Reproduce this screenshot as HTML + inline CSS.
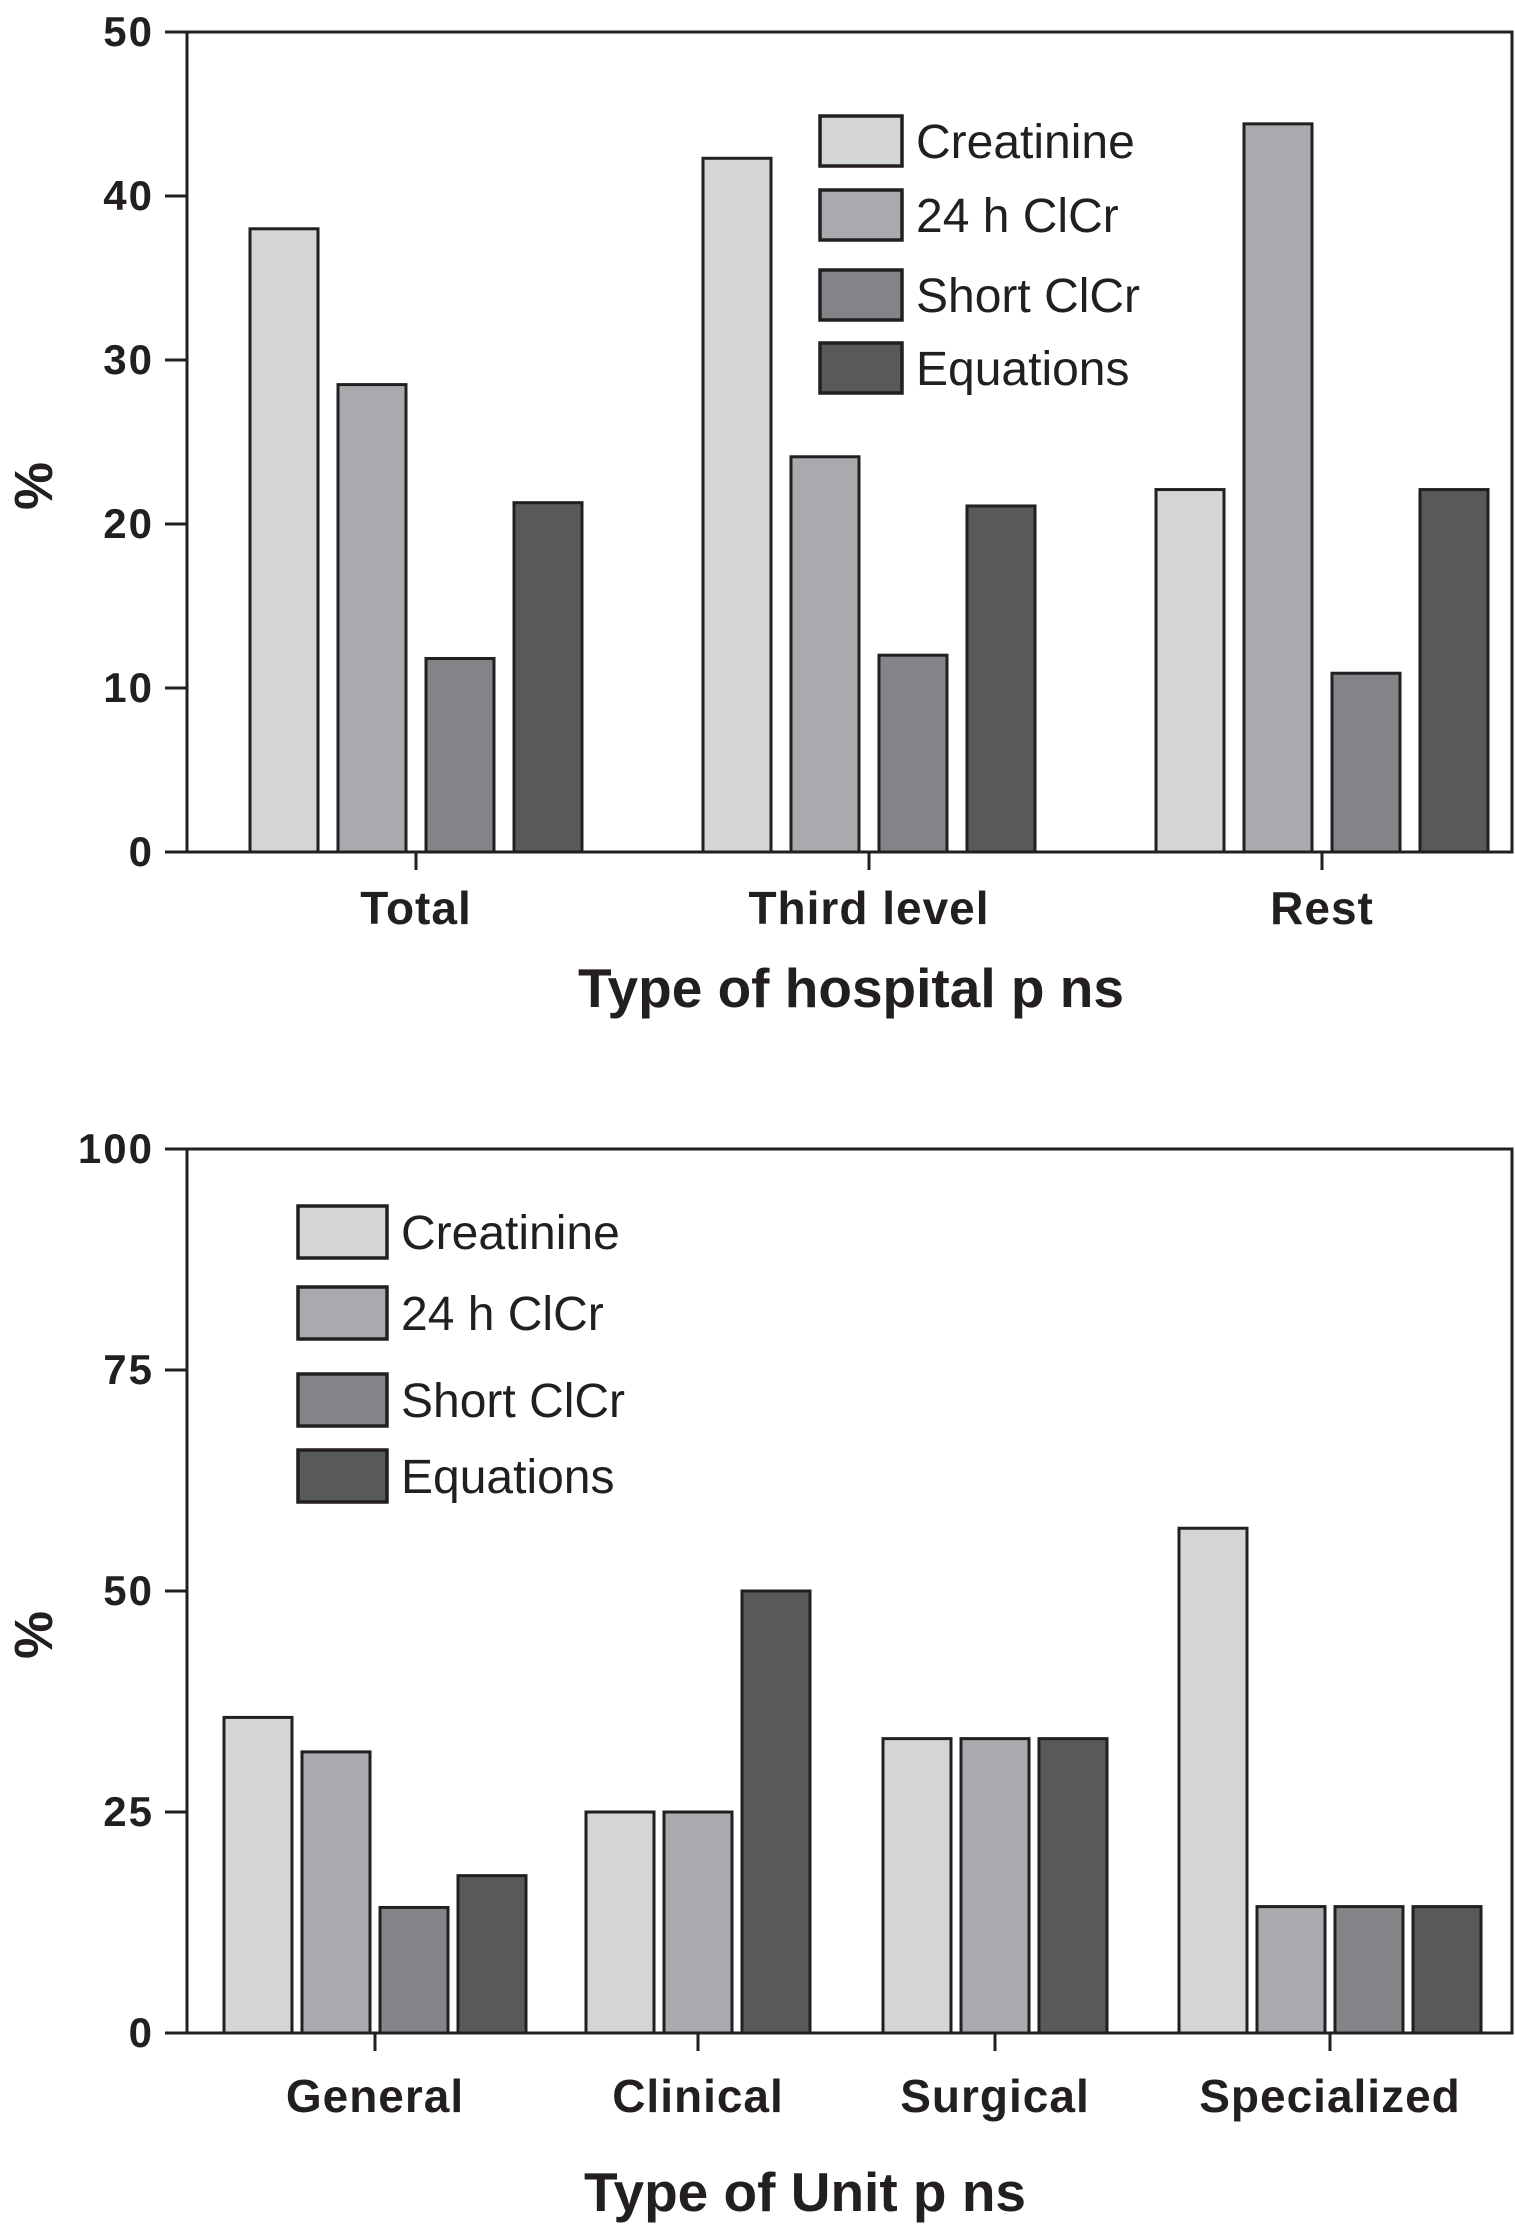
<!DOCTYPE html>
<html><head><meta charset="utf-8"><style>
html,body{margin:0;padding:0;background:#fff;}
svg{display:block;font-family:"Liberation Sans",Arial,sans-serif;}
</style></head><body>
<svg id="svg" width="1515" height="2236" viewBox="0 0 1515 2236" xmlns="http://www.w3.org/2000/svg"></svg>
<script>
const seriesNames = ["Creatinine","24 h ClCr","Short ClCr","Equations"];
const seriesColors = ["#d4d5d7","#a9aaad","#838487","#58595b"];
const hospCategories = ["Total","Third level","Rest"];
const hospCreatinine = [38,42.3,22.1];
const hospClcr24 = [28.5,24.1,44.4];
const hospShort = [11.8,12,10.9];
const hospEquations = [21.3,21.1,22.1];
const hospTicks = [0,10,20,30,40,50];
const unitCategories = ["General","Clinical","Surgical","Specialized"];
const unitCreatinine = [35.7,25,33.3,57.1];
const unitClcr24 = [31.8,25,33.3,14.3];
const unitShort = [14.2,0,0,14.3];
const unitEquations = [17.8,50,33.3,14.3];
const unitTicks = [0,25,50,75,100];

const NS="http://www.w3.org/2000/svg";
const svg=document.getElementById('svg');
function mk(tag,attrs,parent,text){const e=document.createElementNS(NS,tag);for(const k in attrs)e.setAttribute(k,attrs[k]);if(text!==undefined)e.textContent=text;(parent||svg).appendChild(e);return e;}

function drawChart(cfg){
  const g=mk('g',{});
  
  
  const y=v=>cfg.y0-(v-cfg.min)/(cfg.max-cfg.min)*(cfg.y0-cfg.yTop);
  const series=[cfg.s0,cfg.s1,cfg.s2,cfg.s3];
  cfg.cats.forEach((c,i)=>{
    const present=[];
    series.forEach((s,k)=>{ if(s[i]>0 || !cfg.pack) present.push(k); });
    const n=present.length;
    const x0=cfg.centers[i]-(n*cfg.bw+(n-1)*cfg.gap)/2;
    present.forEach((k,j)=>{
      const v=series[k][i];
      const r=mk('rect',{x:x0+j*(cfg.bw+cfg.gap),y:y(v),width:cfg.bw,height:cfg.y0-y(v),fill:seriesColors[k],stroke:'#231f20','stroke-width':3},g);
      
      
    });
    const t=mk('line',{x1:cfg.centers[i],x2:cfg.centers[i],y1:cfg.y0,y2:cfg.y0+18,stroke:'#231f20','stroke-width':3},g);
    
    
    const l=mk('text',{x:cfg.centers[i],y:cfg.catY,'text-anchor':'middle','font-size':46,'font-weight':'bold','letter-spacing':1,fill:'#231f20'},g,c);
    
    
  });
  const f=mk('path',{d:`M${cfg.ax},${cfg.yTop} L${cfg.ax},${cfg.y0} L${cfg.right},${cfg.y0} L${cfg.right},${cfg.yTop} Z`,fill:'none',stroke:'#231f20','stroke-width':3},g);
  
  
  cfg.ticks.forEach(v=>{
    const t=mk('line',{x1:cfg.ax-22,x2:cfg.ax,y1:y(v),y2:y(v),stroke:'#231f20','stroke-width':3},g);
    
    
    const l=mk('text',{x:cfg.ax-33,y:y(v)+14,'text-anchor':'end','font-size':42,'font-weight':'bold','letter-spacing':2,fill:'#231f20'},g,String(v));
    
    
  });
  const yt=mk('text',{x:0,y:0,transform:`translate(52,${cfg.pctY}) rotate(-90)`,'text-anchor':'middle','font-size':54,'font-weight':'bold',fill:'#231f20'},g,'%');
  
  
  const xt=mk('text',{x:cfg.titleX,y:cfg.titleY,'text-anchor':'middle','font-size':55,'font-weight':'bold',fill:'#231f20'},g,cfg.title);
  
  
  seriesNames.forEach((nm,k)=>{
    const L=cfg.leg;
    const b=mk('rect',{x:L.x,y:L.ys[k],width:L.w,height:L.h,fill:seriesColors[k],stroke:'#231f20','stroke-width':3.5},g);
    
    
    const t=mk('text',{x:L.tx,y:L.ys[k]+L.h/2+17,'font-size':48,fill:'#231f20'},g,nm);
    
    
  });
}

drawChart({name:'hospital-chart',cats:hospCategories,s0:hospCreatinine,s1:hospClcr24,s2:hospShort,s3:hospEquations,
  ticks:hospTicks,min:0,max:50,y0:852,yTop:32,ax:187,right:1512,centers:[416,869,1322],bw:68,gap:20,pack:false,
  catY:924,title:'Type of hospital p ns',titleX:851,titleY:1007,pctY:486,
  leg:{x:820,w:82,h:50,tx:916,ys:[116,190,270,343]}});
drawChart({name:'unit-chart',cats:unitCategories,s0:unitCreatinine,s1:unitClcr24,s2:unitShort,s3:unitEquations,
  ticks:unitTicks,min:0,max:100,y0:2033,yTop:1149,ax:187,right:1512,centers:[375,698,995,1330],bw:68,gap:10,pack:true,
  catY:2112,title:'Type of Unit p ns',titleX:805,titleY:2211,pctY:1635,
  leg:{x:298,w:89,h:52,tx:401,ys:[1206,1287,1374,1450]}});
</script>
</body></html>
